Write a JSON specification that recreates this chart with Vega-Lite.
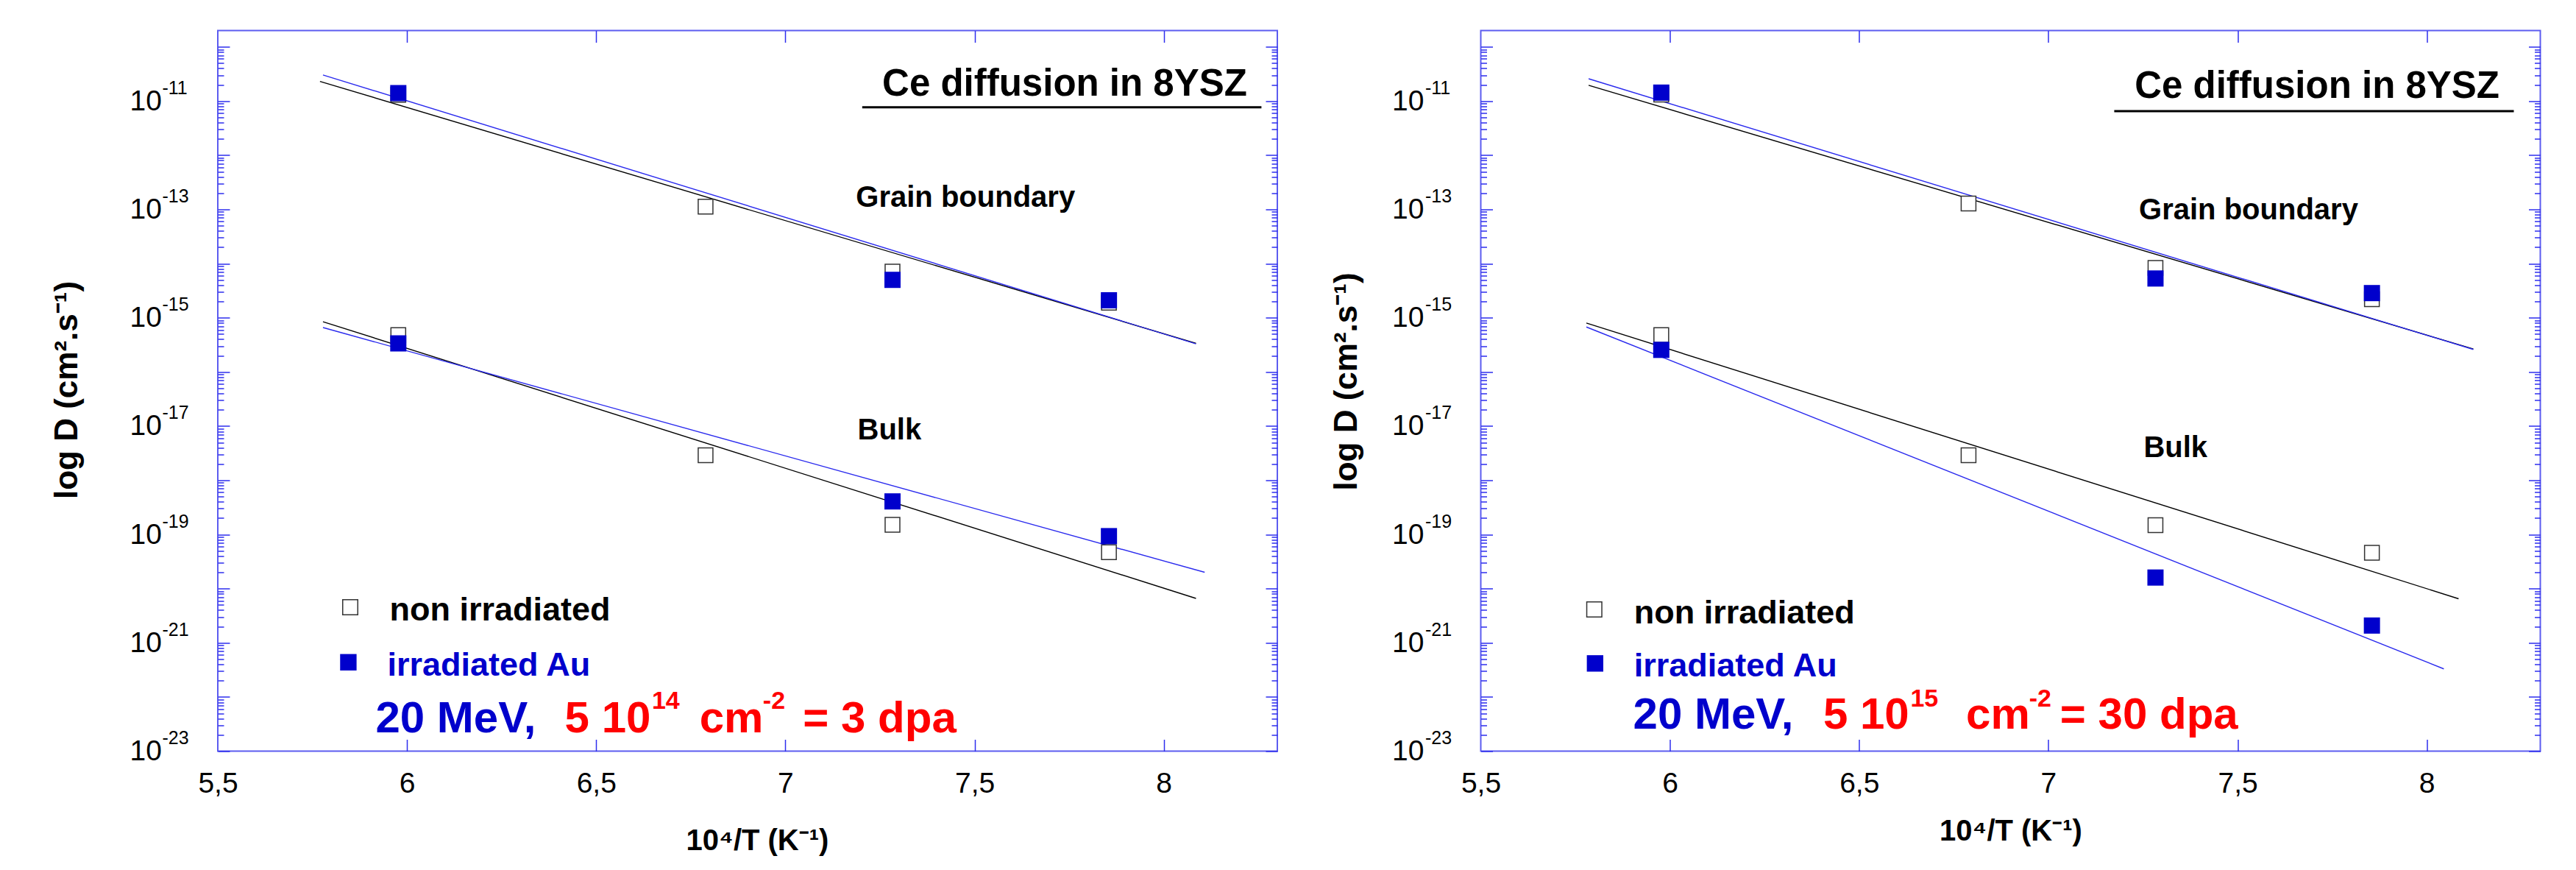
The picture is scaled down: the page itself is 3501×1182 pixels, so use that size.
{
  "$schema": "https://vega.github.io/schema/vega-lite/v6.json",
  "background": "white",
  "padding": {"left": 68, "top": 39.5, "right": 40, "bottom": 10},
  "bounds": "flush",
  "spacing": 276.5,
  "config": {
    "view": {"stroke": "#5c5cf0", "strokeWidth": 2},
    "axis": {"grid": false, "tickColor": "#2e2eee", "tickWidth": 1.5},
    "font": "Liberation Sans"
  },
  "datasets": {
    "points": [
      {"panel": "L", "region": "GB", "series": "non", "x": 5.977, "d": 1.3e-11},
      {"panel": "L", "region": "GB", "series": "non", "x": 6.789, "d": 1.12e-13},
      {"panel": "L", "region": "GB", "series": "non", "x": 7.283, "d": 7.1e-15},
      {"panel": "L", "region": "GB", "series": "non", "x": 7.855, "d": 1.9e-15},
      {"panel": "L", "region": "GB", "series": "irr", "x": 5.977, "d": 1.4e-11},
      {"panel": "L", "region": "GB", "series": "irr", "x": 7.283, "d": 5.0e-15},
      {"panel": "L", "region": "GB", "series": "irr", "x": 7.855, "d": 2.1e-15},
      {"panel": "L", "region": "Bulk", "series": "non", "x": 5.977, "d": 4.8e-16},
      {"panel": "L", "region": "Bulk", "series": "non", "x": 6.789, "d": 2.9e-18},
      {"panel": "L", "region": "Bulk", "series": "non", "x": 7.283, "d": 1.51e-19},
      {"panel": "L", "region": "Bulk", "series": "non", "x": 7.855, "d": 4.7e-20},
      {"panel": "L", "region": "Bulk", "series": "irr", "x": 5.977, "d": 3.36e-16},
      {"panel": "L", "region": "Bulk", "series": "irr", "x": 7.283, "d": 4.07e-19},
      {"panel": "L", "region": "Bulk", "series": "irr", "x": 7.855, "d": 9.3e-20},
      {"panel": "R", "region": "GB", "series": "non", "x": 5.977, "d": 1.32e-11},
      {"panel": "R", "region": "GB", "series": "non", "x": 6.789, "d": 1.28e-13},
      {"panel": "R", "region": "GB", "series": "non", "x": 7.283, "d": 8.3e-15},
      {"panel": "R", "region": "GB", "series": "non", "x": 7.855, "d": 2.2e-15},
      {"panel": "R", "region": "GB", "series": "irr", "x": 5.977, "d": 1.43e-11},
      {"panel": "R", "region": "GB", "series": "irr", "x": 7.283, "d": 5.3e-15},
      {"panel": "R", "region": "GB", "series": "irr", "x": 7.855, "d": 2.85e-15},
      {"panel": "R", "region": "Bulk", "series": "non", "x": 5.977, "d": 4.8e-16},
      {"panel": "R", "region": "Bulk", "series": "non", "x": 6.789, "d": 2.9e-18},
      {"panel": "R", "region": "Bulk", "series": "non", "x": 7.283, "d": 1.48e-19},
      {"panel": "R", "region": "Bulk", "series": "non", "x": 7.855, "d": 4.6e-20},
      {"panel": "R", "region": "Bulk", "series": "irr", "x": 5.977, "d": 2.55e-16},
      {"panel": "R", "region": "Bulk", "series": "irr", "x": 7.283, "d": 1.6e-20},
      {"panel": "R", "region": "Bulk", "series": "irr", "x": 7.855, "d": 2.08e-21}
    ],
    "fits": [
      {"panel": "L", "region": "GB", "series": "non", "x": 5.770, "d": 2.3e-11},
      {"panel": "L", "region": "GB", "series": "non", "x": 8.085, "d": 3.36e-16},
      {"panel": "L", "region": "GB", "series": "irr", "x": 5.778, "d": 3.03e-11},
      {"panel": "L", "region": "GB", "series": "irr", "x": 8.085, "d": 3.3e-16},
      {"panel": "L", "region": "Bulk", "series": "non", "x": 5.778, "d": 8.45e-16},
      {"panel": "L", "region": "Bulk", "series": "non", "x": 8.085, "d": 6.6e-21},
      {"panel": "L", "region": "Bulk", "series": "irr", "x": 5.778, "d": 6.6e-16},
      {"panel": "L", "region": "Bulk", "series": "irr", "x": 8.108, "d": 2.0e-20},
      {"panel": "R", "region": "GB", "series": "non", "x": 5.785, "d": 1.95e-11},
      {"panel": "R", "region": "GB", "series": "non", "x": 8.123, "d": 2.65e-16},
      {"panel": "R", "region": "GB", "series": "irr", "x": 5.785, "d": 2.58e-11},
      {"panel": "R", "region": "GB", "series": "irr", "x": 8.123, "d": 2.6e-16},
      {"panel": "R", "region": "Bulk", "series": "non", "x": 5.779, "d": 8.0e-16},
      {"panel": "R", "region": "Bulk", "series": "non", "x": 8.084, "d": 6.5e-21},
      {"panel": "R", "region": "Bulk", "series": "irr", "x": 5.779, "d": 6.75e-16},
      {"panel": "R", "region": "Bulk", "series": "irr", "x": 8.045, "d": 3.3e-22}
    ],
    "legend": [
      {"panel": "L", "series": "non", "x": 5.85, "d": 4.52e-21},
      {"panel": "L", "series": "irr", "x": 5.845, "d": 4.37e-22},
      {"panel": "R", "series": "non", "x": 5.800, "d": 4.14e-21},
      {"panel": "R", "series": "irr", "x": 5.802, "d": 4.16e-22}
    ],
    "underline": [
      {"panel": "L", "x": 7.203, "x2": 8.258, "d": 7.66e-12},
      {"panel": "R", "x": 7.174, "x2": 8.230, "d": 6.5e-12}
    ],
    "notes": [
      {"panel": "L", "kind": "title", "text": "Ce diffusion in 8YSZ", "x": 7.738, "d": 1.265e-11},
      {"panel": "L", "kind": "region", "text": "Grain boundary", "x": 7.476, "d": 1.117e-13},
      {"panel": "L", "kind": "region", "text": "Bulk", "x": 7.275, "d": 5.71e-18},
      {"panel": "L", "kind": "legnon", "text": "non irradiated", "x": 5.954, "d": 2.54e-21},
      {"panel": "L", "kind": "legirr", "text": "irradiated Au", "x": 5.948, "d": 2.49e-22},
      {"panel": "L", "kind": "beam", "text": "20 MeV,", "x": 5.917, "d": 2.24e-23},
      {"panel": "L", "kind": "dose", "text": "5 10", "x": 6.417, "d": 2.24e-23},
      {"panel": "L", "kind": "dose", "text": "cm", "x": 6.773, "d": 2.24e-23},
      {"panel": "L", "kind": "dose", "text": "= 3 dpa", "x": 7.0465, "d": 2.24e-23},
      {"panel": "L", "kind": "dosesup", "text": "14", "x": 6.647, "d": 5.97e-23},
      {"panel": "L", "kind": "dosesup", "text": "-2", "x": 6.9405, "d": 5.97e-23},
      {"panel": "R", "kind": "title", "text": "Ce diffusion in 8YSZ", "x": 7.710, "d": 1.14e-11},
      {"panel": "R", "kind": "region", "text": "Grain boundary", "x": 7.529, "d": 6.58e-14},
      {"panel": "R", "kind": "region", "text": "Bulk", "x": 7.336, "d": 2.71e-18},
      {"panel": "R", "kind": "legnon", "text": "non irradiated", "x": 5.905, "d": 2.28e-21},
      {"panel": "R", "kind": "legirr", "text": "irradiated Au", "x": 5.905, "d": 2.36e-22},
      {"panel": "R", "kind": "beam", "text": "20 MeV,", "x": 5.9026, "d": 2.57e-23},
      {"panel": "R", "kind": "dose", "text": "5 10", "x": 6.405, "d": 2.57e-23},
      {"panel": "R", "kind": "dose", "text": "cm", "x": 6.7825, "d": 2.57e-23},
      {"panel": "R", "kind": "dose", "text": "= 30 dpa", "x": 7.031, "d": 2.57e-23},
      {"panel": "R", "kind": "dosesup", "text": "15", "x": 6.6354, "d": 6.55e-23},
      {"panel": "R", "kind": "dosesup", "text": "-2", "x": 6.949, "d": 6.55e-23}
    ]
  },
  "hconcat": [
    {
      "width": 1440,
      "height": 979,
      "resolve": {"axis": {"x": "independent", "y": "independent"}},
      "layer": [
        {
          "data": {"name": "fits"},
          "transform": [{"filter": "datum.panel == 'L'"}],
          "mark": {"type": "line", "strokeWidth": 1.4},
          "encoding": {
            "x": {"field": "x", "type": "quantitative", "scale": {"domain": [5.5, 8.3], "nice": false, "zero": false},
              "axis": {"orient": "bottom", "values": [5.5, 6, 6.5, 7, 7.5, 8], "ticks": false, "tickSize": 0, "domain": false, "grid": false,
                "labelExpr": "replace(format(datum.value,'~g'),'.',',')", "labelFont": "Liberation Sans", "labelFontSize": 39, "labelColor": "#000000",
                "labelPadding": 56, "labelBaseline": "alphabetic", "labelFlush": false, "labelOverlap": false,
                "title": "10⁴/T (K⁻¹)", "titleFont": "Liberation Sans", "titleFontSize": 40, "titleFontWeight": "bold", "titleColor": "#000000",
                "titleX": 733, "titleY": 133.5, "titleAlign": "center", "titleBaseline": "alphabetic", "titleAngle": 0}},
            "y": {"field": "d", "type": "quantitative", "scale": {"type": "log", "domain": [1e-23, 2e-10], "nice": false},
              "axis": {"orient": "left", "values": [1e-23, 1e-21, 1e-19, 1e-17, 1e-15, 1e-13, 1e-11], "ticks": false, "tickSize": 0, "domain": false, "grid": false,
                "labelExpr": "'10'", "labelAlign": "left",
                "labelFont": "Liberation Sans", "labelFontSize": 39, "labelColor": "#000000", "labelPadding": 120, "labelFlush": false, "labelOverlap": false,
                "title": "log D (cm².s⁻¹)", "titleFont": "Liberation Sans", "titleFontSize": 44, "titleFontWeight": "bold", "titleColor": "#000000",
                "titleX": -191.5, "titleY": 488, "titleAngle": -90, "titleAlign": "center", "titleBaseline": "alphabetic"}},
            "detail": {"field": "region"},
            "color": {"field": "series", "type": "nominal", "scale": {"domain": ["non", "irr"], "range": ["#000000", "#2a2aee"]}, "legend": null}
          }
        },
        {
          "data": {"name": "points"},
          "transform": [{"filter": "datum.panel == 'L' && datum.series == 'non'"}],
          "mark": {"type": "square", "size": 400, "fill": "white", "stroke": "#333333", "strokeWidth": 1.5, "opacity": 1},
          "encoding": {
            "x": {"field": "x", "type": "quantitative", "scale": {"domain": [5.5, 8.3], "nice": false, "zero": false},
              "axis": {"orient": "bottom", "values": [6, 6.5, 7, 7.5, 8], "labels": false, "domain": false, "grid": false, "tickSize": -16, "title": null}},
            "y": {"field": "d", "type": "quantitative", "scale": {"type": "log", "domain": [1e-23, 2e-10], "nice": false},
              "axis": {"orient": "left", "values": [1e-23, 1e-22, 1e-21, 1e-20, 1e-19, 1e-18, 1e-17, 1e-16, 1e-15, 1e-14, 1e-13, 1e-12, 1e-11, 1e-10], "labels": false, "domain": false, "grid": false, "tickSize": -16, "title": null}}
          }
        },
        {
          "data": {"name": "points"},
          "transform": [{"filter": "datum.panel == 'L' && datum.series == 'irr'"}],
          "mark": {"type": "square", "size": 484, "color": "#0000cc", "opacity": 1},
          "encoding": {
            "x": {"field": "x", "type": "quantitative",
              "axis": {"orient": "top", "values": [6, 6.5, 7, 7.5, 8], "labels": false, "domain": false, "grid": false, "tickSize": -16, "title": null}},
            "y": {"field": "d", "type": "quantitative",
              "axis": {"orient": "left", "values": [2e-23,3e-23,4e-23,5e-23,6e-23,7e-23,8e-23,9e-23,2e-22,3e-22,4e-22,5e-22,6e-22,7e-22,8e-22,9e-22,2e-21,3e-21,4e-21,5e-21,6e-21,7e-21,8e-21,9e-21,2e-20,3e-20,4e-20,5e-20,6e-20,7e-20,8e-20,9e-20,2e-19,3e-19,4e-19,5e-19,6e-19,7e-19,8e-19,9e-19,2e-18,3e-18,4e-18,5e-18,6e-18,7e-18,8e-18,9e-18,2e-17,3e-17,4e-17,5e-17,6e-17,7e-17,8e-17,9e-17,2e-16,3e-16,4e-16,5e-16,6e-16,7e-16,8e-16,9e-16,2e-15,3e-15,4e-15,5e-15,6e-15,7e-15,8e-15,9e-15,2e-14,3e-14,4e-14,5e-14,6e-14,7e-14,8e-14,9e-14,2e-13,3e-13,4e-13,5e-13,6e-13,7e-13,8e-13,9e-13,2e-12,3e-12,4e-12,5e-12,6e-12,7e-12,8e-12,9e-12,2e-11,3e-11,4e-11,5e-11,6e-11,7e-11,8e-11,9e-11], "labels": false, "domain": false, "grid": false, "tickSize": -8, "title": null}}
          }
        },
        {
          "data": {"name": "legend"},
          "transform": [{"filter": "datum.panel == 'L' && datum.series == 'non'"}],
          "mark": {"type": "square", "size": 420, "fill": "white", "stroke": "#333333", "strokeWidth": 1.5, "opacity": 1},
          "encoding": {
            "x": {"field": "x", "type": "quantitative", "axis": null},
            "y": {"field": "d", "type": "quantitative",
              "axis": {"orient": "right", "values": [1e-23, 1e-22, 1e-21, 1e-20, 1e-19, 1e-18, 1e-17, 1e-16, 1e-15, 1e-14, 1e-13, 1e-12, 1e-11, 1e-10], "labels": false, "domain": false, "grid": false, "tickSize": -16, "title": null}}
          }
        },
        {
          "data": {"name": "legend"},
          "transform": [{"filter": "datum.panel == 'L' && datum.series == 'irr'"}],
          "mark": {"type": "square", "size": 500, "color": "#0000cc", "opacity": 1},
          "encoding": {
            "x": {"field": "x", "type": "quantitative", "axis": null},
            "y": {"field": "d", "type": "quantitative",
              "axis": {"orient": "right", "values": [2e-23,3e-23,4e-23,5e-23,6e-23,7e-23,8e-23,9e-23,2e-22,3e-22,4e-22,5e-22,6e-22,7e-22,8e-22,9e-22,2e-21,3e-21,4e-21,5e-21,6e-21,7e-21,8e-21,9e-21,2e-20,3e-20,4e-20,5e-20,6e-20,7e-20,8e-20,9e-20,2e-19,3e-19,4e-19,5e-19,6e-19,7e-19,8e-19,9e-19,2e-18,3e-18,4e-18,5e-18,6e-18,7e-18,8e-18,9e-18,2e-17,3e-17,4e-17,5e-17,6e-17,7e-17,8e-17,9e-17,2e-16,3e-16,4e-16,5e-16,6e-16,7e-16,8e-16,9e-16,2e-15,3e-15,4e-15,5e-15,6e-15,7e-15,8e-15,9e-15,2e-14,3e-14,4e-14,5e-14,6e-14,7e-14,8e-14,9e-14,2e-13,3e-13,4e-13,5e-13,6e-13,7e-13,8e-13,9e-13,2e-12,3e-12,4e-12,5e-12,6e-12,7e-12,8e-12,9e-12,2e-11,3e-11,4e-11,5e-11,6e-11,7e-11,8e-11,9e-11], "labels": false, "domain": false, "grid": false, "tickSize": -8, "title": null}}
          }
        },
        {
          "data": {"name": "underline"},
          "transform": [{"filter": "datum.panel == 'L'"}],
          "mark": {"type": "rule", "color": "#000000", "strokeWidth": 3},
          "encoding": {
            "x": {"field": "x", "type": "quantitative", "axis": null},
            "x2": {"field": "x2"},
            "y": {"field": "d", "type": "quantitative",
              "axis": {"orient": "left", "values": [1e-23, 1e-21, 1e-19, 1e-17, 1e-15, 1e-13, 1e-11], "ticks": false, "tickSize": 0, "domain": false, "grid": false,
                "labelExpr": "datum.value < 1e-22 ? '-23' : datum.value < 1e-20 ? '-21' : datum.value < 1e-18 ? '-19' : datum.value < 1e-16 ? '-17' : datum.value < 1e-14 ? '-15' : datum.value < 1e-12 ? '-13' : '-11'",
                "labelAlign": "left", "labelFont": "Liberation Sans", "labelFontSize": 25, "labelColor": "#000000", "labelPadding": 76, "labelOffset": -18,
                "labelFlush": false, "labelOverlap": false, "title": null}}
          }
        },
        {
          "data": {"name": "notes"},
          "transform": [{"filter": "datum.panel == 'L' && datum.kind == 'title'"}],
          "mark": {"type": "text", "font": "Liberation Sans", "fontSize": 51, "fontWeight": "bold", "align": "center", "baseline": "alphabetic", "color": "#000000"},
          "encoding": {"x": {"field": "x", "type": "quantitative", "axis": null}, "y": {"field": "d", "type": "quantitative", "axis": null}, "text": {"field": "text"}}
        },
        {
          "data": {"name": "notes"},
          "transform": [{"filter": "datum.panel == 'L' && datum.kind == 'region'"}],
          "mark": {"type": "text", "font": "Liberation Sans", "fontSize": 40, "fontWeight": "bold", "align": "center", "baseline": "alphabetic", "color": "#000000"},
          "encoding": {"x": {"field": "x", "type": "quantitative", "axis": null}, "y": {"field": "d", "type": "quantitative", "axis": null}, "text": {"field": "text"}}
        },
        {
          "data": {"name": "notes"},
          "transform": [{"filter": "datum.panel == 'L' && datum.kind == 'legnon'"}],
          "mark": {"type": "text", "font": "Liberation Sans", "fontSize": 45, "fontWeight": "bold", "align": "left", "baseline": "alphabetic", "color": "#000000"},
          "encoding": {"x": {"field": "x", "type": "quantitative", "axis": null}, "y": {"field": "d", "type": "quantitative", "axis": null}, "text": {"field": "text"}}
        },
        {
          "data": {"name": "notes"},
          "transform": [{"filter": "datum.panel == 'L' && datum.kind == 'legirr'"}],
          "mark": {"type": "text", "font": "Liberation Sans", "fontSize": 45, "fontWeight": "bold", "align": "left", "baseline": "alphabetic", "color": "#0000cc"},
          "encoding": {"x": {"field": "x", "type": "quantitative", "axis": null}, "y": {"field": "d", "type": "quantitative", "axis": null}, "text": {"field": "text"}}
        },
        {
          "data": {"name": "notes"},
          "transform": [{"filter": "datum.panel == 'L' && datum.kind == 'beam'"}],
          "mark": {"type": "text", "font": "Liberation Sans", "fontSize": 60, "fontWeight": "bold", "align": "left", "baseline": "alphabetic", "color": "#0000cc"},
          "encoding": {"x": {"field": "x", "type": "quantitative", "axis": null}, "y": {"field": "d", "type": "quantitative", "axis": null}, "text": {"field": "text"}}
        },
        {
          "data": {"name": "notes"},
          "transform": [{"filter": "datum.panel == 'L' && datum.kind == 'dose'"}],
          "mark": {"type": "text", "font": "Liberation Sans", "fontSize": 60, "fontWeight": "bold", "align": "left", "baseline": "alphabetic", "color": "#ff0000"},
          "encoding": {"x": {"field": "x", "type": "quantitative", "axis": null}, "y": {"field": "d", "type": "quantitative", "axis": null}, "text": {"field": "text"}}
        },
        {
          "data": {"name": "notes"},
          "transform": [{"filter": "datum.panel == 'L' && datum.kind == 'dosesup'"}],
          "mark": {"type": "text", "font": "Liberation Sans", "fontSize": 34, "fontWeight": "bold", "align": "left", "baseline": "alphabetic", "color": "#ff0000"},
          "encoding": {"x": {"field": "x", "type": "quantitative", "axis": null}, "y": {"field": "d", "type": "quantitative", "axis": null}, "text": {"field": "text"}}
        }
      ]
    },
    {
      "width": 1440,
      "height": 979,
      "resolve": {"axis": {"x": "independent", "y": "independent"}},
      "layer": [
        {
          "data": {"name": "fits"},
          "transform": [{"filter": "datum.panel == 'R'"}],
          "mark": {"type": "line", "strokeWidth": 1.4},
          "encoding": {
            "x": {"field": "x", "type": "quantitative", "scale": {"domain": [5.5, 8.3], "nice": false, "zero": false},
              "axis": {"orient": "bottom", "values": [5.5, 6, 6.5, 7, 7.5, 8], "ticks": false, "tickSize": 0, "domain": false, "grid": false,
                "labelExpr": "replace(format(datum.value,'~g'),'.',',')", "labelFont": "Liberation Sans", "labelFontSize": 39, "labelColor": "#000000",
                "labelPadding": 56, "labelBaseline": "alphabetic", "labelFlush": false, "labelOverlap": false,
                "title": "10⁴/T (K⁻¹)", "titleFont": "Liberation Sans", "titleFontSize": 40, "titleFontWeight": "bold", "titleColor": "#000000",
                "titleX": 720, "titleY": 120.5, "titleAlign": "center", "titleBaseline": "alphabetic", "titleAngle": 0}},
            "y": {"field": "d", "type": "quantitative", "scale": {"type": "log", "domain": [1e-23, 2e-10], "nice": false},
              "axis": {"orient": "left", "values": [1e-23, 1e-21, 1e-19, 1e-17, 1e-15, 1e-13, 1e-11], "ticks": false, "tickSize": 0, "domain": false, "grid": false,
                "labelExpr": "'10'", "labelAlign": "left",
                "labelFont": "Liberation Sans", "labelFontSize": 39, "labelColor": "#000000", "labelPadding": 121, "labelFlush": false, "labelOverlap": false,
                "title": "log D (cm².s⁻¹)", "titleFont": "Liberation Sans", "titleFontSize": 44, "titleFontWeight": "bold", "titleColor": "#000000",
                "titleX": -169, "titleY": 476.5, "titleAngle": -90, "titleAlign": "center", "titleBaseline": "alphabetic"}},
            "detail": {"field": "region"},
            "color": {"field": "series", "type": "nominal", "scale": {"domain": ["non", "irr"], "range": ["#000000", "#2a2aee"]}, "legend": null}
          }
        },
        {
          "data": {"name": "points"},
          "transform": [{"filter": "datum.panel == 'R' && datum.series == 'non'"}],
          "mark": {"type": "square", "size": 400, "fill": "white", "stroke": "#333333", "strokeWidth": 1.5, "opacity": 1},
          "encoding": {
            "x": {"field": "x", "type": "quantitative", "scale": {"domain": [5.5, 8.3], "nice": false, "zero": false},
              "axis": {"orient": "bottom", "values": [6, 6.5, 7, 7.5, 8], "labels": false, "domain": false, "grid": false, "tickSize": -16, "title": null}},
            "y": {"field": "d", "type": "quantitative", "scale": {"type": "log", "domain": [1e-23, 2e-10], "nice": false},
              "axis": {"orient": "left", "values": [1e-23, 1e-22, 1e-21, 1e-20, 1e-19, 1e-18, 1e-17, 1e-16, 1e-15, 1e-14, 1e-13, 1e-12, 1e-11, 1e-10], "labels": false, "domain": false, "grid": false, "tickSize": -16, "title": null}}
          }
        },
        {
          "data": {"name": "points"},
          "transform": [{"filter": "datum.panel == 'R' && datum.series == 'irr'"}],
          "mark": {"type": "square", "size": 484, "color": "#0000cc", "opacity": 1},
          "encoding": {
            "x": {"field": "x", "type": "quantitative",
              "axis": {"orient": "top", "values": [6, 6.5, 7, 7.5, 8], "labels": false, "domain": false, "grid": false, "tickSize": -16, "title": null}},
            "y": {"field": "d", "type": "quantitative",
              "axis": {"orient": "left", "values": [2e-23,3e-23,4e-23,5e-23,6e-23,7e-23,8e-23,9e-23,2e-22,3e-22,4e-22,5e-22,6e-22,7e-22,8e-22,9e-22,2e-21,3e-21,4e-21,5e-21,6e-21,7e-21,8e-21,9e-21,2e-20,3e-20,4e-20,5e-20,6e-20,7e-20,8e-20,9e-20,2e-19,3e-19,4e-19,5e-19,6e-19,7e-19,8e-19,9e-19,2e-18,3e-18,4e-18,5e-18,6e-18,7e-18,8e-18,9e-18,2e-17,3e-17,4e-17,5e-17,6e-17,7e-17,8e-17,9e-17,2e-16,3e-16,4e-16,5e-16,6e-16,7e-16,8e-16,9e-16,2e-15,3e-15,4e-15,5e-15,6e-15,7e-15,8e-15,9e-15,2e-14,3e-14,4e-14,5e-14,6e-14,7e-14,8e-14,9e-14,2e-13,3e-13,4e-13,5e-13,6e-13,7e-13,8e-13,9e-13,2e-12,3e-12,4e-12,5e-12,6e-12,7e-12,8e-12,9e-12,2e-11,3e-11,4e-11,5e-11,6e-11,7e-11,8e-11,9e-11], "labels": false, "domain": false, "grid": false, "tickSize": -8, "title": null}}
          }
        },
        {
          "data": {"name": "legend"},
          "transform": [{"filter": "datum.panel == 'R' && datum.series == 'non'"}],
          "mark": {"type": "square", "size": 420, "fill": "white", "stroke": "#333333", "strokeWidth": 1.5, "opacity": 1},
          "encoding": {
            "x": {"field": "x", "type": "quantitative", "axis": null},
            "y": {"field": "d", "type": "quantitative",
              "axis": {"orient": "right", "values": [1e-23, 1e-22, 1e-21, 1e-20, 1e-19, 1e-18, 1e-17, 1e-16, 1e-15, 1e-14, 1e-13, 1e-12, 1e-11, 1e-10], "labels": false, "domain": false, "grid": false, "tickSize": -16, "title": null}}
          }
        },
        {
          "data": {"name": "legend"},
          "transform": [{"filter": "datum.panel == 'R' && datum.series == 'irr'"}],
          "mark": {"type": "square", "size": 500, "color": "#0000cc", "opacity": 1},
          "encoding": {
            "x": {"field": "x", "type": "quantitative", "axis": null},
            "y": {"field": "d", "type": "quantitative",
              "axis": {"orient": "right", "values": [2e-23,3e-23,4e-23,5e-23,6e-23,7e-23,8e-23,9e-23,2e-22,3e-22,4e-22,5e-22,6e-22,7e-22,8e-22,9e-22,2e-21,3e-21,4e-21,5e-21,6e-21,7e-21,8e-21,9e-21,2e-20,3e-20,4e-20,5e-20,6e-20,7e-20,8e-20,9e-20,2e-19,3e-19,4e-19,5e-19,6e-19,7e-19,8e-19,9e-19,2e-18,3e-18,4e-18,5e-18,6e-18,7e-18,8e-18,9e-18,2e-17,3e-17,4e-17,5e-17,6e-17,7e-17,8e-17,9e-17,2e-16,3e-16,4e-16,5e-16,6e-16,7e-16,8e-16,9e-16,2e-15,3e-15,4e-15,5e-15,6e-15,7e-15,8e-15,9e-15,2e-14,3e-14,4e-14,5e-14,6e-14,7e-14,8e-14,9e-14,2e-13,3e-13,4e-13,5e-13,6e-13,7e-13,8e-13,9e-13,2e-12,3e-12,4e-12,5e-12,6e-12,7e-12,8e-12,9e-12,2e-11,3e-11,4e-11,5e-11,6e-11,7e-11,8e-11,9e-11], "labels": false, "domain": false, "grid": false, "tickSize": -8, "title": null}}
          }
        },
        {
          "data": {"name": "underline"},
          "transform": [{"filter": "datum.panel == 'R'"}],
          "mark": {"type": "rule", "color": "#000000", "strokeWidth": 3},
          "encoding": {
            "x": {"field": "x", "type": "quantitative", "axis": null},
            "x2": {"field": "x2"},
            "y": {"field": "d", "type": "quantitative",
              "axis": {"orient": "left", "values": [1e-23, 1e-21, 1e-19, 1e-17, 1e-15, 1e-13, 1e-11], "ticks": false, "tickSize": 0, "domain": false, "grid": false,
                "labelExpr": "datum.value < 1e-22 ? '-23' : datum.value < 1e-20 ? '-21' : datum.value < 1e-18 ? '-19' : datum.value < 1e-16 ? '-17' : datum.value < 1e-14 ? '-15' : datum.value < 1e-12 ? '-13' : '-11'",
                "labelAlign": "left", "labelFont": "Liberation Sans", "labelFontSize": 25, "labelColor": "#000000", "labelPadding": 76, "labelOffset": -18,
                "labelFlush": false, "labelOverlap": false, "title": null}}
          }
        },
        {
          "data": {"name": "notes"},
          "transform": [{"filter": "datum.panel == 'R' && datum.kind == 'title'"}],
          "mark": {"type": "text", "font": "Liberation Sans", "fontSize": 51, "fontWeight": "bold", "align": "center", "baseline": "alphabetic", "color": "#000000"},
          "encoding": {"x": {"field": "x", "type": "quantitative", "axis": null}, "y": {"field": "d", "type": "quantitative", "axis": null}, "text": {"field": "text"}}
        },
        {
          "data": {"name": "notes"},
          "transform": [{"filter": "datum.panel == 'R' && datum.kind == 'region'"}],
          "mark": {"type": "text", "font": "Liberation Sans", "fontSize": 40, "fontWeight": "bold", "align": "center", "baseline": "alphabetic", "color": "#000000"},
          "encoding": {"x": {"field": "x", "type": "quantitative", "axis": null}, "y": {"field": "d", "type": "quantitative", "axis": null}, "text": {"field": "text"}}
        },
        {
          "data": {"name": "notes"},
          "transform": [{"filter": "datum.panel == 'R' && datum.kind == 'legnon'"}],
          "mark": {"type": "text", "font": "Liberation Sans", "fontSize": 45, "fontWeight": "bold", "align": "left", "baseline": "alphabetic", "color": "#000000"},
          "encoding": {"x": {"field": "x", "type": "quantitative", "axis": null}, "y": {"field": "d", "type": "quantitative", "axis": null}, "text": {"field": "text"}}
        },
        {
          "data": {"name": "notes"},
          "transform": [{"filter": "datum.panel == 'R' && datum.kind == 'legirr'"}],
          "mark": {"type": "text", "font": "Liberation Sans", "fontSize": 45, "fontWeight": "bold", "align": "left", "baseline": "alphabetic", "color": "#0000cc"},
          "encoding": {"x": {"field": "x", "type": "quantitative", "axis": null}, "y": {"field": "d", "type": "quantitative", "axis": null}, "text": {"field": "text"}}
        },
        {
          "data": {"name": "notes"},
          "transform": [{"filter": "datum.panel == 'R' && datum.kind == 'beam'"}],
          "mark": {"type": "text", "font": "Liberation Sans", "fontSize": 60, "fontWeight": "bold", "align": "left", "baseline": "alphabetic", "color": "#0000cc"},
          "encoding": {"x": {"field": "x", "type": "quantitative", "axis": null}, "y": {"field": "d", "type": "quantitative", "axis": null}, "text": {"field": "text"}}
        },
        {
          "data": {"name": "notes"},
          "transform": [{"filter": "datum.panel == 'R' && datum.kind == 'dose'"}],
          "mark": {"type": "text", "font": "Liberation Sans", "fontSize": 60, "fontWeight": "bold", "align": "left", "baseline": "alphabetic", "color": "#ff0000"},
          "encoding": {"x": {"field": "x", "type": "quantitative", "axis": null}, "y": {"field": "d", "type": "quantitative", "axis": null}, "text": {"field": "text"}}
        },
        {
          "data": {"name": "notes"},
          "transform": [{"filter": "datum.panel == 'R' && datum.kind == 'dosesup'"}],
          "mark": {"type": "text", "font": "Liberation Sans", "fontSize": 34, "fontWeight": "bold", "align": "left", "baseline": "alphabetic", "color": "#ff0000"},
          "encoding": {"x": {"field": "x", "type": "quantitative", "axis": null}, "y": {"field": "d", "type": "quantitative", "axis": null}, "text": {"field": "text"}}
        }
      ]
    }
  ]
}
